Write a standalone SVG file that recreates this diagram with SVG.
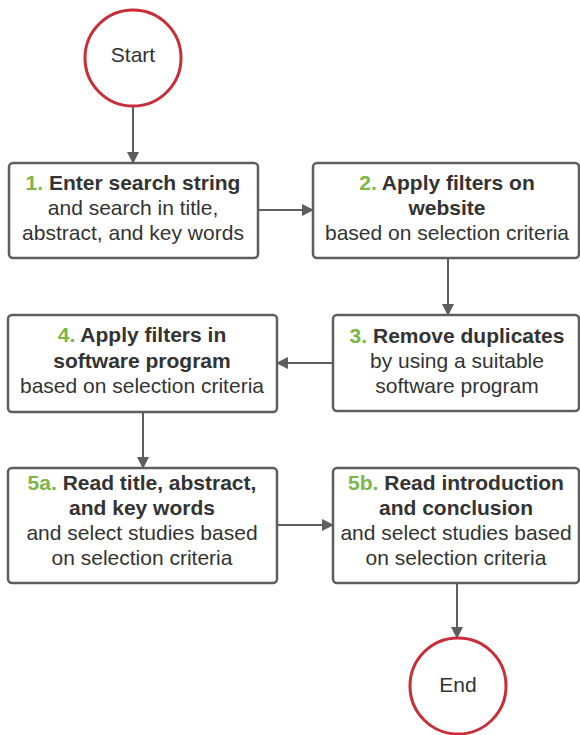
<svg xmlns="http://www.w3.org/2000/svg" width="580" height="735" viewBox="0 0 580 735">
  <defs>
    <marker id="arrow" markerWidth="12" markerHeight="12" refX="11" refY="6" orient="auto" markerUnits="userSpaceOnUse">
      <path d="M0,0 L12,6 L0,12 Z" fill="#5e5e5e"/>
    </marker>
    <style>
      .box { fill: #ffffff; stroke: #5e5e5e; stroke-width: 2.5; }
      .term { fill: #ffffff; stroke: #c92d39; stroke-width: 3; }
      .edge { fill: none; stroke: #5e5e5e; stroke-width: 2; marker-end: url(#arrow); }
      text { font-family: "Liberation Sans", Arial, sans-serif; font-size: 21px; fill: #333333; text-anchor: middle; }
      .b { font-weight: bold; }
      .num { fill: #7ab648; font-weight: bold; }
    </style>
  </defs>
  <rect width="580" height="735" fill="#ffffff"/>

  <g id="connectors">
    <line class="edge" x1="133" y1="106" x2="133" y2="163"/>
    <line class="edge" x1="258" y1="210" x2="313" y2="210"/>
    <line class="edge" x1="448" y1="258" x2="448" y2="315"/>
    <line class="edge" x1="333" y1="363" x2="277" y2="363"/>
    <line class="edge" x1="143" y1="412" x2="143" y2="468"/>
    <line class="edge" x1="277" y1="525" x2="333" y2="525"/>
    <line class="edge" x1="457" y1="583" x2="457" y2="638"/>
  </g>

  <g id="start">
    <circle class="term" cx="133" cy="58" r="48"/>
    <text x="133" y="62">Start</text>
  </g>

  <g id="step1">
    <rect class="box" x="9" y="163" width="249" height="95" rx="4"/>
    <text x="133" y="190"><tspan class="num">1. </tspan><tspan class="b">Enter search string</tspan></text>
    <text x="133" y="215">and search in title,</text>
    <text x="133" y="240">abstract, and key words</text>
  </g>

  <g id="step2">
    <rect class="box" x="313" y="163" width="266" height="95" rx="4"/>
    <text x="447" y="190"><tspan class="num">2. </tspan><tspan class="b">Apply filters on</tspan></text>
    <text x="447" y="215" class="b">website</text>
    <text x="447" y="240">based on selection criteria</text>
  </g>

  <g id="step3">
    <rect class="box" x="333" y="315" width="246" height="96" rx="4"/>
    <text x="457" y="343"><tspan class="num">3. </tspan><tspan class="b">Remove duplicates</tspan></text>
    <text x="457" y="368">by using a suitable</text>
    <text x="457" y="393">software program</text>
  </g>

  <g id="step4">
    <rect class="box" x="8" y="315" width="269" height="97" rx="4"/>
    <text x="142" y="342"><tspan class="num">4. </tspan><tspan class="b">Apply filters in</tspan></text>
    <text x="142" y="368" class="b">software program</text>
    <text x="142" y="393">based on selection criteria</text>
  </g>

  <g id="step5a">
    <rect class="box" x="8" y="468" width="269" height="115" rx="4"/>
    <text x="142" y="490"><tspan class="num">5a. </tspan><tspan class="b">Read title, abstract,</tspan></text>
    <text x="142" y="515" class="b">and key words</text>
    <text x="142" y="540">and select studies based</text>
    <text x="142" y="565">on selection criteria</text>
  </g>

  <g id="step5b">
    <rect class="box" x="333" y="468" width="246" height="115" rx="4"/>
    <text x="456" y="490"><tspan class="num">5b. </tspan><tspan class="b">Read introduction</tspan></text>
    <text x="456" y="515" class="b">and conclusion</text>
    <text x="456" y="540">and select studies based</text>
    <text x="456" y="565">on selection criteria</text>
  </g>

  <g id="end">
    <circle class="term" cx="458" cy="686" r="48"/>
    <text x="458" y="692">End</text>
  </g>
</svg>
